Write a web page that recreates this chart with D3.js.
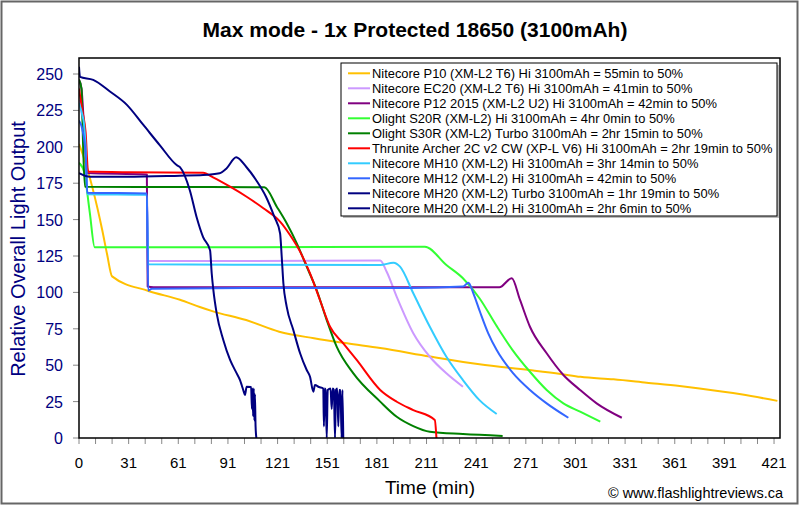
<!DOCTYPE html>
<html><head><meta charset="utf-8">
<script src="https://cdn.jsdelivr.net/npm/d3@7/dist/d3.min.js"></script>
<style>body{margin:0;background:#fff}svg{display:block;font-family:Arial,"Liberation Sans",sans-serif}</style>
</head><body><svg id="c" width="800" height="506"></svg>
<script>
const title = "Max mode - 1x Protected 18650 (3100mAh)";
const yTicks = [0,25,50,75,100,125,150,175,200,225,250];
const xTickPos = [0,30,60,90,120,150,180,210,240,270,300,330,360,390,420];
const xTickLabels = ["0","31","61","91","121","151","181","211","241","271","301","331","361","391","421"];
const xMinorTicks = d3.range(0, 421, 10);

const names = [
 "Nitecore P10 (XM-L2 T6) Hi 3100mAh = 55min to 50%",
 "Nitecore EC20 (XM-L2 T6) Hi 3100mAh = 41min to 50%",
 "Nitecore P12 2015 (XM-L2 U2) Hi 3100mAh = 42min to 50%",
 "Olight S20R (XM-L2) Hi 3100mAh = 4hr 0min to 50%",
 "Olight S30R (XM-L2) Turbo 3100mAh = 2hr 15min to 50%",
 "Thrunite Archer 2C v2 CW (XP-L V6) Hi 3100mAh = 2hr 19min to 50%",
 "Nitecore MH10 (XM-L2) Hi 3100mAh = 3hr 14min to 50%",
 "Nitecore MH12 (XM-L2) Hi 3100mAh = 42min to 50%",
 "Nitecore MH20 (XM-L2) Turbo 3100mAh = 1hr 19min to 50%",
 "Nitecore MH20 (XM-L2) Hi 3100mAh = 2hr 6min to 50%"
];
const colors = ["#FFC000","#CC99FF","#800080","#33FF33","#008000","#FF0000","#33CCFF","#3366FF","#000080","#000080"];

const p10 = [[0,202],[2.5,194],[14,143],[17,126],[20,111],[42,101],[61,95],[73,90],[81,87],[101,81],[121,73],[142,68.5],[162,65],[182,61.8],[212,56],[242,50.6],[272,46.7],[291,44],[303,42],[323,40.3],[343,38],[363,35.7],[375,34],[400,30],[422,25.5]];
const ec20 = [[0,232],[2,220],[4,200],[5,168],[41,167.5],[41.8,121.5],[100,121.5],[182,122],[186,114],[192,97],[202,72],[212,55.8],[222,44.4],[232,35.2]];
const p12 = [[0,246],[1.5,240],[3,215],[5,182],[41,181],[41.5,104],[45,103.5],[100,103.5],[200,103.5],[254,103.5],[261.5,109.7],[266.5,94.8],[272.5,76.4],[282.6,58.2],[292.7,43.3],[302.8,33],[312.8,23.8],[328,13.9]];
const s20r = [[0,189],[3,183],[6.5,155],[9.5,131],[100,131],[209,131.4],[222,118.8],[232,109.7],[242,96],[252,77.6],[262,60.4],[272.5,45.5],[282.6,33],[292.7,23.8],[302.8,18.1],[315,11.2]];
const s30r = [[0,246],[1.5,240],[2.5,200],[3.6,172.6],[50,172.4],[112,172.2],[119.5,158.9],[125.5,147.5],[131.6,133.7],[137.6,117.7],[143.6,101.6],[149.7,81],[155.7,62.7],[165.8,44.4],[182,25],[192,14.6],[202,8.2],[212,4.3],[232,2.7],[256,1.4]];
const archer = [[0,240],[2,225],[4,210],[5.5,183],[30,182.5],[75,182.2],[81,179],[91.3,172.6],[101.3,165.7],[111.4,157.8],[121.5,148.6],[127.5,139.4],[133.6,128],[139.6,113],[145.6,94.8],[151.7,76.4],[159.7,65],[167.8,53.6],[182,33],[192,24.9],[202,19.2],[215,12.4],[216,0]];
const mh10 = [[0,230],[2,222],[3,216],[4,200],[5,167.5],[41,167],[41.8,119.3],[100,119],[182,118.8],[190,120.4],[194,117.7],[202,99.4],[212,76.4],[222,55.8],[232,39.8],[242,26],[252.4,16.5]];
const mh12 = [[0,218],[2,212],[4,195],[5,168.5],[41,168],[41.8,101.2],[44,102.5],[100,103],[200,103],[232,104],[235.3,106.7],[238.3,99.4],[242.3,86.7],[247.3,71.9],[252.4,60.4],[262.4,44.4],[272.5,33],[282.6,23.8],[295.7,13.9]];
const mh20t = [[0,255],[0.6,248],[8.6,246],[18.7,238],[28.8,229],[38.9,215],[48.9,201],[59,187.5],[61,186],[67,170],[71,152],[75,138],[79.2,129],[80.2,113],[81.2,101.6],[83.2,85.6],[87.2,67.3],[91.3,53.6],[95.3,44.4],[97.3,39.8],[98.3,36.4],[99.5,32],[100.3,29.5],[101.3,35.2],[104,35],[104.5,20],[104.8,34],[105.2,15],[105.6,34],[106,12],[106.3,30],[106.7,8],[107.2,0]];
const mh20h = [[0,182],[6.6,179.5],[28.8,179.5],[61,180.2],[75,180.6],[85,181.8],[89,185],[95,192.8],[101,186.3],[107,177.2],[113,165.7],[118,152],[121.5,140.6],[122.5,124.5],[123.5,106.3],[125.5,90.2],[129.5,74.2],[133.6,58.2],[137.6,46.7],[139.6,42.1],[141.6,31.8],[142.6,36.4],[145,35],[147.6,34],[148,8],[148.5,34],[149,33],[149.7,0],[150.3,33],[152,34],[152.7,20],[153.3,34],[154,33],[154.7,0],[155.3,33],[156,34],[156.7,8],[157.3,33],[158,33],[158.7,0],[159.2,33],[159.7,0]];
const seriesData = [p10, ec20, p12, s20r, s30r, archer, mh10, mh12, mh20t, mh20h];

const svg = d3.select("#c");
const L = 79, R = 780, T = 58, B = 438;
const x = d3.scaleLinear().domain([0, 423.6]).range([L, R]);
const y = d3.scaleLinear().domain([0, 261]).range([B, T]);

svg.append("rect").attr("x",1.5).attr("y",1.5).attr("width",796).attr("height",502)
  .attr("fill","#fff").attr("stroke","#666").attr("stroke-width",2);

svg.append("text").attr("x",415).attr("y",37).attr("text-anchor","middle")
  .attr("font-size",21).attr("font-weight","bold").attr("fill","#000").text(title);

svg.append("defs").append("clipPath").attr("id","clip").append("rect")
  .attr("x",L).attr("y",T-4).attr("width",R-L).attr("height",B-T+4);

const gy = svg.append("g");
gy.selectAll("line").data(yTicks).join("line")
  .attr("x1",L-6).attr("x2",L).attr("y1",d=>y(d)).attr("y2",d=>y(d)).attr("stroke","#888");
gy.selectAll("text").data(yTicks).join("text")
  .attr("x",L-16).attr("y",d=>y(d)+6).attr("text-anchor","end")
  .attr("font-size",16).attr("fill","#000080").text(d=>d);

const gx = svg.append("g");
gx.selectAll("line").data(xMinorTicks).join("line")
  .attr("x1",d=>x(d)).attr("x2",d=>x(d)).attr("y1",B).attr("y2",B+6).attr("stroke","#888");
gx.selectAll("text").data(xTickPos).join("text")
  .attr("x",d=>x(d)).attr("y",B+30).attr("text-anchor","middle")
  .attr("font-size",15).attr("fill","#000").text((d,i)=>xTickLabels[i]);

const line = d3.line().x(d=>x(d[0])).y(d=>y(d[1])).curve(d3.curveMonotoneX);
const gl = svg.append("g").attr("clip-path","url(#clip)");
seriesData.forEach((s,i)=>{
  gl.append("path").attr("d",line(s)).attr("fill","none").attr("stroke",colors[i])
    .attr("stroke-width",2).attr("stroke-linejoin","round");
});

svg.append("rect").attr("x",L).attr("y",T).attr("width",R-L).attr("height",B-T)
  .attr("fill","none").attr("stroke","#000").attr("stroke-width",1.5);

svg.append("text").attr("transform","translate(25,249) rotate(-90)").attr("text-anchor","middle")
  .attr("font-size",20).attr("fill","#000080").text("Relative Overall Light Output");
svg.append("text").attr("x",430).attr("y",494).attr("text-anchor","middle")
  .attr("font-size",19).attr("fill","#000").text("Time (min)");
svg.append("text").attr("x",783).attr("y",498).attr("text-anchor","end")
  .attr("font-size",14.5).attr("fill","#000").text("\u00A9 www.flashlightreviews.ca");

const lgX = 341, lgY = 63, lgW = 436, lgH = 153;
svg.append("rect").attr("x",lgX+2).attr("y",lgY+2).attr("width",lgW).attr("height",lgH).attr("fill","#bbb");
svg.append("rect").attr("x",lgX).attr("y",lgY).attr("width",lgW).attr("height",lgH)
  .attr("fill","#fff").attr("stroke","#000").attr("stroke-width",1);
const lg = svg.append("g");
names.forEach((n,i)=>{
  const yy = 73.3 + i*15;
  lg.append("line").attr("x1",348).attr("x2",370).attr("y1",yy).attr("y2",yy)
    .attr("stroke",colors[i]).attr("stroke-width",2);
  lg.append("text").attr("x",372).attr("y",yy+4.5).attr("font-size",12.9).attr("fill","#000").text(n);
});
</script></body></html>
